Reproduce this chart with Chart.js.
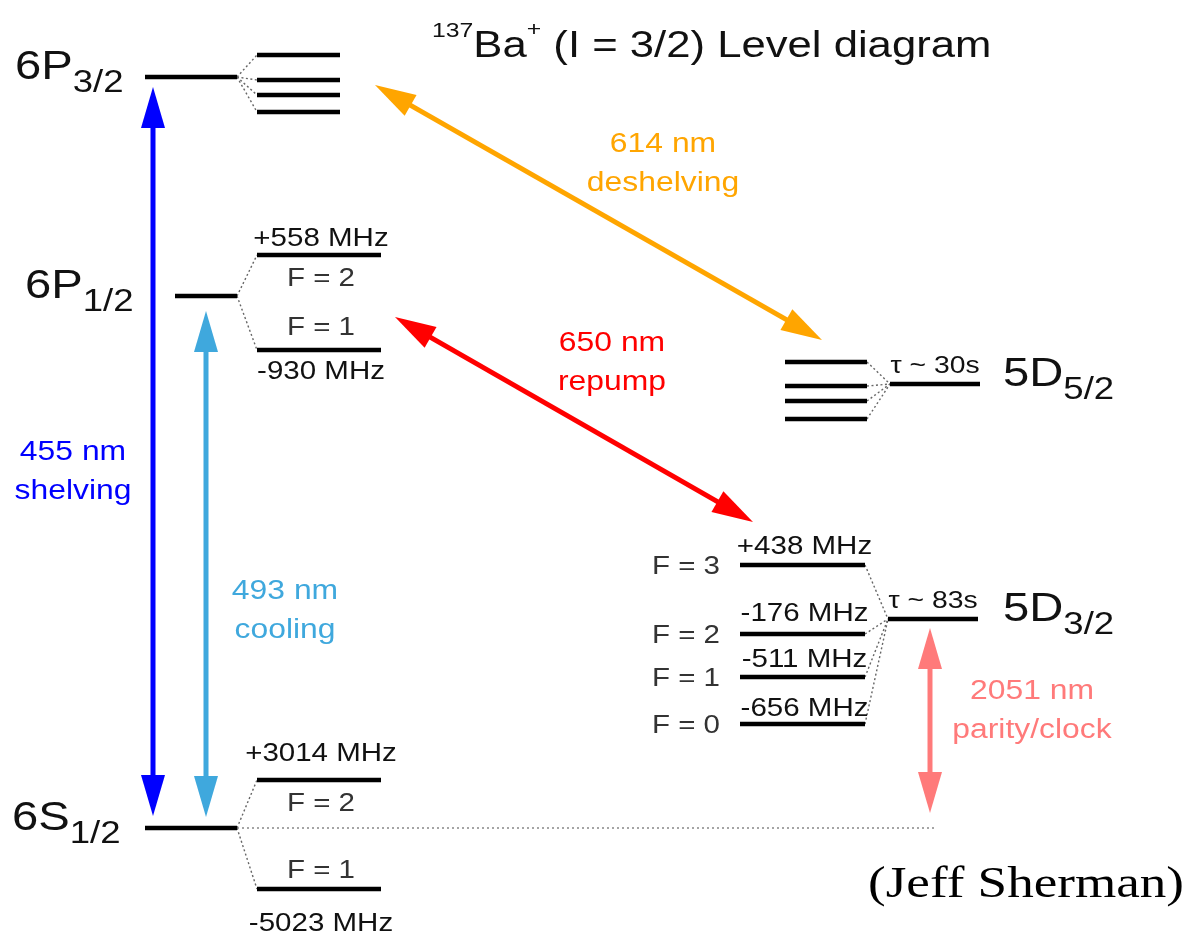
<!DOCTYPE html>
<html>
<head>
<meta charset="utf-8">
<script src="https://cdn.jsdelivr.net/npm/chart.js@4/dist/chart.umd.min.js"></script>
<style>
  html, body { margin: 0; padding: 0; background: #fff; }
  #wrap { width: 1193px; height: 937px; }
</style>
</head>
<body>
<div id="wrap"><canvas id="levels" width="1193" height="937"></canvas></div>
<script>
// diagram units: x 0..1193 left->right, y 0..937 top->bottom (higher energy = smaller y)

// fine structure manifolds
const manifolds  = ["6P", "6P", "6S", "5D", "5D"];
const manifoldJ  = ["3/2", "1/2", "1/2", "5/2", "3/2"];
const manifoldY  = [77, 296, 828, 384, 619];
const manifoldX0 = [145, 175, 145, 890, 888];
const manifoldX1 = [237, 237, 237, 980, 978];
const lifetimes  = ["", "", "", "τ ~ 30s", "τ ~ 83s"];

// hyperfine sublevels (same order as manifolds)
const hfsY  = [[55, 80, 95, 112], [255, 350], [780, 889], [362, 386, 401, 419], [565, 634, 677, 724]];
const hfsX0 = [257, 257, 257, 785, 740];
const hfsX1 = [340, 381, 381, 867, 865];
const hfsShift = [[], ["+558 MHz", "-930 MHz"], ["+3014 MHz", "-5023 MHz"], [], ["+438 MHz", "-176 MHz", "-511 MHz", "-656 MHz"]];
const hfsF     = [[], ["F = 2", "F = 1"], ["F = 2", "F = 1"], [], ["F = 3", "F = 2", "F = 1", "F = 0"]];

// laser transitions
const transWavelength = ["455 nm", "493 nm", "614 nm", "650 nm", "2051 nm"];
const transRole = ["shelving", "cooling", "deshelving", "repump", "parity/clock"];
const transFrom = [[153, 87], [206, 311], [375, 85], [395, 317], [930, 628]];
const transTo   = [[153, 816], [206, 817], [822, 340], [753, 522], [930, 813]];

// ---- layout / style (not data) ----
const SX = 1.18;   // the source picture is stretched sideways
const FONT = '"Liberation Sans", Arial, Helvetica, sans-serif';
const transColor = ["#0000ff", "#3fa8dd", "#ffa500", "#ff0000", "#ff7a7a"];
const transLabelAt = [[73, 453], [285, 592], [663, 145], [612, 344], [1032, 692]];
const nameLabelX = [15, 25, 12, 1003, 1003];
const shiftDy = [[], [-16, 22], [-26, 35], [], [-18, -20, -17, -15]];
const fDy     = [[], [24, -22], [24, -18], [], [2, 2, 2, 2]];
const fLeftX = 686;

function seg(x0, y0, x1, y1, color, width, dash) {
  return {
    data: [{ x: x0, y: y0 }, { x: x1, y: y1 }],
    showLine: true,
    borderColor: color,
    borderWidth: width,
    borderDash: dash || [],
    borderCapStyle: "butt",
    pointRadius: 0,
    clip: false
  };
}

const datasets = [];
manifolds.forEach((m, i) => {
  datasets.push(seg(manifoldX0[i], manifoldY[i], manifoldX1[i], manifoldY[i], "#000", 4.5));
  hfsY[i].forEach(y => {
    datasets.push(seg(hfsX0[i], y, hfsX1[i], y, "#000", 4.5));
    // dotted fan between manifold and its sublevels
    if (hfsX0[i] > manifoldX1[i]) {
      datasets.push(seg(manifoldX1[i], manifoldY[i], hfsX0[i], y, "#666", 1.4, [2, 2.5]));
    } else {
      datasets.push(seg(hfsX1[i], y, manifoldX0[i], manifoldY[i], "#666", 1.4, [2, 2.5]));
    }
  });
});
// ground state reference to the clock arrow
datasets.push(seg(manifoldX1[2], manifoldY[2], transTo[4][0] + 5, manifoldY[2], "#888", 1.6, [2, 3]));

function drawText(ctx, str, x, y, font, color, align, baseline) {
  ctx.save();
  ctx.font = font;
  ctx.fillStyle = color;
  ctx.textAlign = "left";
  ctx.textBaseline = baseline || "middle";
  const w = ctx.measureText(str).width * SX;
  const left = align === "center" ? x - w / 2 : align === "right" ? x - w : x;
  ctx.translate(left, y);
  ctx.scale(SX, 1);
  ctx.fillText(str, 0, 0);
  ctx.restore();
  return w;
}

const arrowPlugin = {
  id: "arrows",
  afterDatasetsDraw(chart) {
    const { ctx, scales: { x, y } } = chart;
    transFrom.forEach((f, i) => {
      const ax = x.getPixelForValue(f[0]), ay = y.getPixelForValue(f[1]);
      const bx = x.getPixelForValue(transTo[i][0]), by = y.getPixelForValue(transTo[i][1]);
      const len = Math.hypot(bx - ax, by - ay);
      const ux = (bx - ax) / len, uy = (by - ay) / len;
      const hl = 41, hw = 12;
      ctx.save();
      ctx.strokeStyle = transColor[i];
      ctx.fillStyle = transColor[i];
      ctx.lineWidth = 5;
      ctx.beginPath();
      ctx.moveTo(ax + ux * (hl - 2), ay + uy * (hl - 2));
      ctx.lineTo(bx - ux * (hl - 2), by - uy * (hl - 2));
      ctx.stroke();
      [[ax, ay, 1], [bx, by, -1]].forEach(([tx, ty, s]) => {
        const cx = tx + s * ux * hl, cy = ty + s * uy * hl;
        ctx.beginPath();
        ctx.moveTo(tx, ty);
        ctx.lineTo(cx - uy * hw, cy + ux * hw);
        ctx.lineTo(cx + uy * hw, cy - ux * hw);
        ctx.closePath();
        ctx.fill();
      });
      ctx.restore();
    });
  }
};

const labelPlugin = {
  id: "labels",
  afterDraw(chart) {
    const { ctx, scales: { x, y } } = chart;
    const px = v => x.getPixelForValue(v), py = v => y.getPixelForValue(v);

    // title
    let tx = px(432);
    tx += drawText(ctx, "137", tx, py(37), "21px " + FONT, "#111", "left", "alphabetic");
    tx += drawText(ctx, "Ba", tx, py(57), "37px " + FONT, "#111", "left", "alphabetic");
    tx += drawText(ctx, "+", tx, py(36), "21px " + FONT, "#111", "left", "alphabetic");
    drawText(ctx, " (I = 3/2) Level diagram", tx, py(57), "37px " + FONT, "#111", "left", "alphabetic");

    manifolds.forEach((m, i) => {
      const ly = manifoldY[i];
      const w = drawText(ctx, m, px(nameLabelX[i]), py(ly - 9), "40px " + FONT, "#111", "left");
      drawText(ctx, manifoldJ[i], px(nameLabelX[i]) + w, py(ly + 6), "31px " + FONT, "#111", "left");
      if (lifetimes[i]) {
        drawText(ctx, lifetimes[i], px((manifoldX0[i] + manifoldX1[i]) / 2), py(ly - 18), "24px " + FONT, "#111", "center");
      }
      const cx = (hfsX0[i] + hfsX1[i]) / 2;
      hfsShift[i].forEach((s, k) => {
        drawText(ctx, s, px(cx + 2), py(hfsY[i][k] + shiftDy[i][k]), "25px " + FONT, "#111", "center");
      });
      hfsF[i].forEach((f, k) => {
        const fx = i === 4 ? fLeftX : cx + 2;
        drawText(ctx, f, px(fx), py(hfsY[i][k] + fDy[i][k]), "25px " + FONT, "#333", "center");
      });
    });

    transWavelength.forEach((wl, i) => {
      const [lx, ly] = transLabelAt[i];
      drawText(ctx, wl, px(lx), py(ly), "27px " + FONT, transColor[i], "center");
      drawText(ctx, transRole[i], px(lx), py(ly + 39), "27px " + FONT, transColor[i], "center");
    });

    drawText(ctx, "(Jeff Sherman)", px(868), py(897), "45px \"Liberation Serif\", \"Times New Roman\", serif", "#000", "left", "alphabetic");
  }
};

new Chart(document.getElementById("levels"), {
  type: "scatter",
  data: { datasets },
  options: {
    responsive: false,
    animation: false,
    events: [],
    layout: { padding: 0 },
    plugins: { legend: { display: false }, tooltip: { enabled: false } },
    scales: {
      x: { type: "linear", min: 0, max: 1193, display: false },
      y: { type: "linear", min: 0, max: 937, reverse: true, display: false }
    }
  },
  plugins: [arrowPlugin, labelPlugin]
});
</script>
</body>
</html>
